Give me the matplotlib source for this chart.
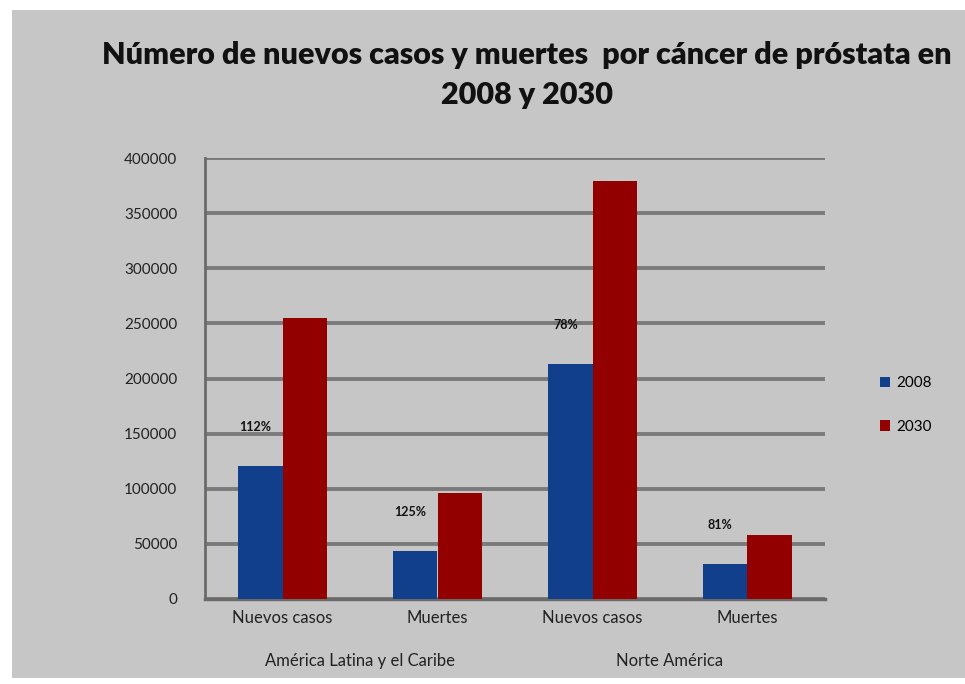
import numpy as np
import matplotlib.pyplot as plt
from matplotlib.patches import Rectangle

categories = ["Nuevos casos", "Muertes", "Nuevos casos", "Muertes"]
regions = ["América Latina y el Caribe", "Norte América"]
years = ["2008", "2030"]
vals_2008 = [120500, 43500, 213000, 31700]
vals_2030 = [255000, 96000, 379000, 58000]
increase = ["112%", "125%", "78%", "81%"]

bg = "#c6c6c6"
blue = "#123f8c"
red = "#930000"

fig = plt.figure(figsize=(9.65, 6.84), dpi=100, facecolor="white")
fig.patches.append(Rectangle((12/965, 6/684), 953/965, 668/684, transform=fig.transFigure,
                             facecolor=bg, edgecolor="none", zorder=-10))

ax = fig.add_axes([205/965, 1-599/684, 620/965, (599-158)/684])
ax.set_facecolor(bg)

x = np.arange(len(categories))
w = 0.29
ax.bar(x - w/2, vals_2008, w, color=blue, label=years[0], zorder=3)
ax.bar(x + w/2, vals_2030, w, color=red, label=years[1], zorder=3)

for i in range(len(x)):
    ax.text(x[i] - w/2 - 0.03, vals_2008[i] + 30000, increase[i], ha="center", va="bottom",
            fontsize=9, fontweight="bold", color="#111111", family="Lato", zorder=4)

ax.set_xlim(-0.5, 3.5)
ax.set_ylim(0, 400000)
ax.set_yticks(np.arange(0, 400001, 50000))
ax.set_yticklabels([str(v) for v in range(0, 400001, 50000)], fontsize=11, family="Lato", color="#222222")
ax.yaxis.grid(True, color="#7a7a7a", linewidth=2.8, zorder=0)
ax.set_axisbelow(True)
ax.set_xticks(x)
ax.set_xticklabels(categories, fontsize=12, family="Lato", color="#222222")
ax.tick_params(axis="x", length=0, pad=8)
ax.tick_params(axis="y", length=0, pad=20)
for s in ["top", "right"]:
    ax.spines[s].set_visible(False)
ax.spines["left"].set_color("#6a6a6a")
ax.spines["left"].set_linewidth(2)
ax.spines["bottom"].set_color("#6a6a6a")
ax.spines["bottom"].set_linewidth(2.5)

ax.text(0.5, -0.14, regions[0], transform=ax.get_xaxis_transform(), ha="center", va="center",
        fontsize=12, family="Lato", color="#222222")
ax.text(2.5, -0.14, regions[1], transform=ax.get_xaxis_transform(), ha="center", va="center",
        fontsize=12, family="Lato", color="#222222")

fig.text(527/965, 1-75/684, "Número de nuevos casos y muertes  por cáncer de próstata en\n2008 y 2030",
         ha="center", va="center", fontsize=22, fontweight="heavy", family="Lato",
         linespacing=1.5, color="#111111")

leg = fig.legend(loc="center left", bbox_to_anchor=(866/965, 1-405/684), frameon=False,
                 prop={"family": "Lato", "size": 11}, handlelength=0.7, handleheight=0.7,
                 labelspacing=1.9, handletextpad=0.4)

fig.savefig("out.png", dpi=100, facecolor=fig.get_facecolor())
